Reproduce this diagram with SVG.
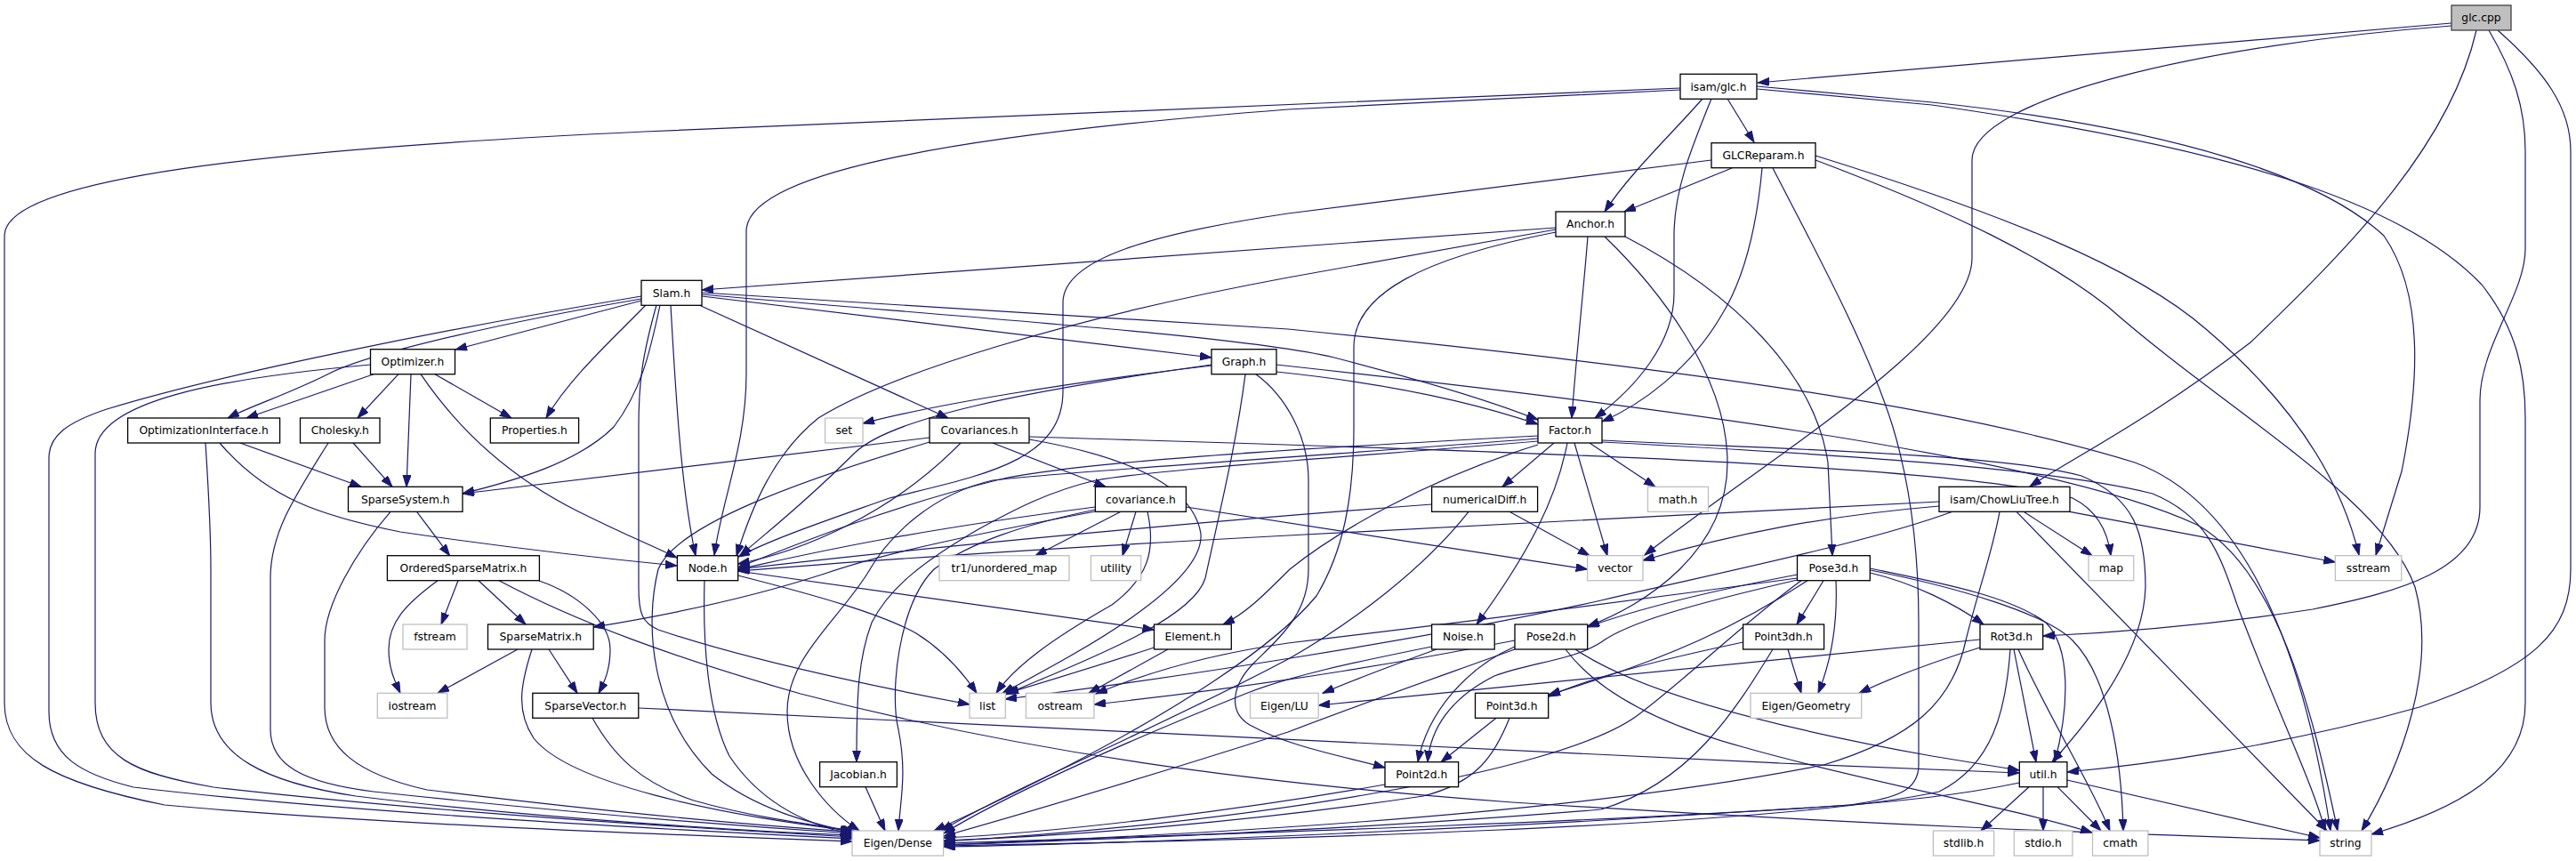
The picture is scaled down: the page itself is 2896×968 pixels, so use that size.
<svg xmlns="http://www.w3.org/2000/svg" width="2896" height="968" viewBox="0 0 2896 968">
<defs>
<marker id="a" markerWidth="14" markerHeight="10" refX="13" refY="4.5" orient="auto" markerUnits="userSpaceOnUse"><path d="M0,0 L13,4.5 L0,9 z" fill="#191970" stroke="#191970" stroke-width="1"/></marker>
<style>
.n rect{fill:#fff;stroke:#000;stroke-width:1.3}
.x rect{fill:#fff;stroke:#bfbfbf;stroke-width:1.3}
.r rect{fill:#bfbfbf;stroke:#404040;stroke-width:1.3}
text{font-family:"DejaVu Sans","Liberation Sans",sans-serif;font-size:12.3px;text-anchor:middle;fill:#000}
#edges path{fill:none;stroke:#191970;stroke-width:1.2;marker-end:url(#a)}
</style>
</defs>
<rect width="2896" height="968" fill="#fff"/>
<g id="edges">
<path d="M2756,26 L1976,93"/>
<path d="M2756,29 C2480,50 2217,110 2217,180 L2217,290 C2217,380 1980,520 1849,624"/>
<path d="M2784,34 C2755,160 2650,270 2530,385 C2420,470 2330,515 2282,547"/>
<path d="M2798,34 C2825,80 2839,120 2839,170 L2839,280 C2839,330 2788,390 2788,450 L2788,570 C2788,640 2700,665 2600,685 C2470,705 2360,712 2297,715"/>
<path d="M2808,34 C2860,80 2890,120 2890,170 L2890,640 C2890,710 2850,750 2720,795 C2560,840 2410,860 2324,868"/>
<path d="M1889,99 L724,148 C300,168 5,200 5,265 L5,790 C5,850 60,880 185,905 C420,927 800,940 958,946"/>
<path d="M1889,101 L1448,123 C1100,150 839,190 839,260 L839,420 C839,500 812,560 803,624"/>
<path d="M1914,111 C1880,150 1832,195 1804,238"/>
<path d="M1924,111 C1900,170 1882,215 1882,265 L1882,330 C1882,385 1840,435 1793,470"/>
<path d="M1942,111 L1972,160"/>
<path d="M1975,97 L2172,115 C2450,145 2610,200 2680,265 C2725,330 2720,430 2700,530 L2671,624"/>
<path d="M1975,100 L2172,118 C2500,165 2700,225 2790,320 C2830,370 2839,420 2839,470 L2839,790 C2839,870 2760,910 2666,938"/>
<path d="M1947,189 L1826,238"/>
<path d="M1924,180 L1448,240 C1300,262 1195,290 1195,340 L1195,440 C1195,520 1100,535 1000,560 C930,585 870,605 830,626"/>
<path d="M1981,189 C1975,255 1960,315 1935,355 C1900,415 1845,455 1801,474"/>
<path d="M1993,189 C2040,280 2100,390 2128,480 C2152,560 2157,640 2157,700 L2157,860 C2157,888 2135,897 2080,905 C1800,925 1300,940 1061,948"/>
<path d="M2041,175 C2250,240 2400,300 2480,370 C2580,455 2632,540 2652,624"/>
<path d="M2041,180 C2200,240 2300,290 2370,345 C2500,460 2680,560 2715,660 C2740,750 2700,860 2655,934"/>
<path d="M1749,256 L789,326"/>
<path d="M1749,258 L1448,312 C1200,358 1000,420 920,470 C870,510 845,570 828,625"/>
<path d="M1749,261 C1600,290 1522,330 1522,390 L1522,480 C1522,560 1510,620 1480,670 C1430,730 1300,820 1050,934"/>
<path d="M1785,266 C1780,330 1772,400 1767,470"/>
<path d="M1804,266 C1860,320 1942,420 1942,520 C1942,620 1850,680 1785,704"/>
<path d="M1827,266 C1950,330 2040,420 2055,520 L2060,624.7"/>
<path d="M721,333 C500,370 250,420 120,460 C75,475 55,490 55,515 L55,800 C55,850 90,870 150,885 C400,915 800,935 958,943"/>
<path d="M721,336 C580,360 420,395 370,420 C320,445 285,455 256,470"/>
<path d="M721,338 L512,393"/>
<path d="M726,343 C690,380 640,425 614,470"/>
<path d="M742,343 C730,400 720,440 690,480 C650,520 580,540 520,555"/>
<path d="M754,343 C760,450 766,550 782,624.7"/>
<path d="M738,343 C722,400 718,430 718,480 L718,660 C718,690 722,700 740,708 C850,745 1000,775 1090,792"/>
<path d="M789,333 L1362,402"/>
<path d="M786,343 L1066,470"/>
<path d="M789,331 C1100,358 1400,378 1500,402 C1600,428 1680,452 1729,472"/>
<path d="M789,329 L1448,370 C1900,415 2200,458 2400,520 C2550,575 2600,800 2620,934"/>
<path d="M416.5,410 C250,425 107,450 107,510 L107,790 C107,850 150,870 240,885 C500,915 850,935 958,941"/>
<path d="M420,420.7 L277,470"/>
<path d="M448,420.7 L402,470"/>
<path d="M462,420.7 L457,547.3"/>
<path d="M473,420.7 C520,490 580,540 650,575 C700,600 730,612 761,627"/>
<path d="M489,420.7 L575,470"/>
<path d="M231,498 C235,560 237,600 237,640 L237,790 C237,850 300,880 400,895 C600,920 850,935 958,939"/>
<path d="M247,498 C300,560 360,580 450,598 C600,620 700,630 761,636"/>
<path d="M270,498 L406,547.3"/>
<path d="M369,498 C330,560 304,600 304,650 L304,820 C304,860 340,880 420,890 C650,915 850,930 958,937"/>
<path d="M397,498 L441,547.3"/>
<path d="M439,575.3 C400,620 365,680 365,720 L365,795 C365,840 400,870 480,888 C700,915 850,928 958,935"/>
<path d="M468.6,575.3 L505.6,624.7"/>
<path d="M492,652.7 C455,680 437,700 437,730 C437,752 444,766 450,779.3"/>
<path d="M515,652.7 L496,702"/>
<path d="M538,652.7 L591,702"/>
<path d="M561,652.7 C650,700 760,740 900,780 C1150,845 1400,880 1700,902 C2100,928 2400,938 2608,945"/>
<path d="M606,653 C650,668 686,700 686,730 C686,752 680,766 673,779.3"/>
<path d="M582,730 L492,779.3"/>
<path d="M598,730 C585,770 580,800 600,830 C640,880 800,915 958,934"/>
<path d="M617,730 L649,779.3"/>
<path d="M666,807.3 C690,850 720,880 780,900 C850,920 920,928 960,934"/>
<path d="M718,796 C1000,810 1500,835 2000,858 L2270,869"/>
<path d="M792,652.7 C790,720 795,800 820,850 C860,910 920,930 958,938"/>
<path d="M829.7,642 L1297.5,708"/>
<path d="M829.7,647 C920,670 990,690 1030,712 C1062,732 1085,760 1098,779.3"/>
<path d="M1045,492 L520,555"/>
<path d="M1045,497 C900,540 760,590 740,640 C725,700 730,800 800,870 C850,910 910,925 958,936"/>
<path d="M1080,498 C1000,580 900,620 829.7,634"/>
<path d="M1116,498 L1243,547.3"/>
<path d="M1157,491 C1600,505 2200,520 2330,560 C2360,575 2370,600 2373,624.7"/>
<path d="M1157,494 C1250,510 1340,540 1350,600 C1355,660 1200,740 1127,779.3"/>
<path d="M1260,575.3 L1164,624.7"/>
<path d="M1277,575.3 L1262,624.7"/>
<path d="M1290,575.3 C1300,620 1290,650 1250,680 C1180,720 1140,750 1120,779.3"/>
<path d="M1333.4,570 L1784.6,640"/>
<path d="M1231.4,573 C1150,590 1090,610 1050,640 C1010,680 1000,780 1010,820 C1020,870 1012,900 1010,934"/>
<path d="M1231.4,575 C1100,600 1000,620 927,645 C850,670 760,690 667,705"/>
<path d="M1231.4,570 C1000,600 900,625 829.7,640"/>
<path d="M1362,411 C1200,430 1050,455 970,476"/>
<path d="M1362,410 C1150,440 1000,470 960,510 C900,570 860,600 832,624.7"/>
<path d="M1435,418 C1550,430 1650,450 1729,477"/>
<path d="M1400,420.7 C1390,500 1370,580 1355,650 C1340,700 1200,750 1130,781"/>
<path d="M1412,420.7 C1445,445 1471,490 1471,540 L1471,640 C1471,690 1440,715 1410,745 C1385,770 1380,800 1405,815 C1450,840 1510,850 1557,863"/>
<path d="M1435,410 C1800,450 2300,510 2470,590 C2560,640 2600,800 2628,934"/>
<path d="M1729,490 C1450,505 1200,520 1120,540 C1000,570 900,610 829.7,638"/>
<path d="M1729,496 C1500,515 1300,528 1232,540 C1180,552 1140,573 1100,595 C1040,630 1000,660 980,700 C965,740 963,780 963,856.7"/>
<path d="M1729,493 C1450,515 1200,530 1116,540 C1050,555 1000,600 975,645 C940,700 885,740 885,800 C885,860 930,910 966,934"/>
<path d="M1729,500 C1600,540 1500,600 1450,640 C1420,670 1400,690 1375,702"/>
<path d="M1747,498 L1689,547.3"/>
<path d="M1762,498 C1750,560 1720,620 1660,702"/>
<path d="M1770,498 L1807,624.7"/>
<path d="M1787,498 L1861,547.3"/>
<path d="M1801,495 C2000,505 2250,510 2340,535 C2400,560 2412,600 2412,660 C2410,740 2340,820 2307,856.7"/>
<path d="M1801,497 C2050,510 2300,525 2420,555 C2480,580 2495,620 2515,680 C2560,800 2600,880 2614,934"/>
<path d="M1697,575.3 L1787,624.7"/>
<path d="M1609.6,567 C1300,590 1000,620 829.7,640"/>
<path d="M1651,575.3 C1600,640 1520,700 1450,740 C1300,820 1150,880 1058,934"/>
<path d="M2180,564 L1448,602 C1150,618 950,632 829.7,642"/>
<path d="M2180,569 C2050,580 1950,600 1847,630"/>
<path d="M2195,575.3 C2100,610 1950,640 1800,675 C1600,720 1300,765 1130,786"/>
<path d="M2248,575.3 C2240,620 2225,660 2210,720 C2195,790 2150,830 2050,860 C1750,920 1300,940 1061,950"/>
<path d="M2267,575.3 L2616,934"/>
<path d="M2275,575.3 L2352,624.7"/>
<path d="M2327,575.3 L2625.4,632"/>
<path d="M2020.5,646 C1920,665 1840,685 1784.7,705"/>
<path d="M2020.5,650 C1800,680 1600,705 1448,723 C1350,737 1280,760 1232,780"/>
<path d="M2020.5,652 C1900,680 1830,700 1800,722 C1770,742 1720,745 1680,760 C1630,785 1608,820 1605,856.7"/>
<path d="M2032,652.7 C1960,700 1880,740 1741,781"/>
<path d="M2050,652.7 L2020,702"/>
<path d="M2064,652.7 C2066,700 2060,740 2044,779.3"/>
<path d="M2025,652.7 C1960,700 1900,760 1840,805 C1750,870 1400,925 1061,946"/>
<path d="M2102.3,644 C2150,655 2200,680 2230,702"/>
<path d="M2102.3,639 C2180,655 2260,670 2300,700 C2330,730 2325,800 2310,856.7"/>
<path d="M2102.3,641 C2200,660 2300,690 2330,720 C2370,760 2385,850 2387,934"/>
<path d="M1703,727 C1650,750 1605,800 1594,856.7"/>
<path d="M1703,720 C1600,740 1448,768 1230,792"/>
<path d="M1703,730 C1620,760 1520,795 1448,823 C1300,870 1150,915 1061,940"/>
<path d="M1760,730 C1790,770 1850,810 1960,840 C2100,880 2250,905 2352,936"/>
<path d="M1771,730 C1830,770 1950,810 2172,850 L2270,866"/>
<path d="M1615,730 C1560,750 1520,765 1487,779.3"/>
<path d="M1609.6,727 C1520,745 1450,760 1400,780 C1250,840 1120,900 1061,937"/>
<path d="M1959.6,722 C1850,745 1780,765 1741,783"/>
<path d="M1993,730 C1950,800 1900,880 1800,910 C1500,935 1200,945 1061,950"/>
<path d="M2010,730 L2025,779.3"/>
<path d="M1682,807.3 L1620,856.7"/>
<path d="M1697,807.3 C1680,850 1660,880 1600,895 C1400,925 1200,940 1061,945"/>
<path d="M1557,882 C1400,910 1200,935 1061,942"/>
<path d="M2226,719 L1482,793"/>
<path d="M2226,728 C2170,745 2120,765 2090,779.3"/>
<path d="M2260,730 C2255,800 2240,860 2180,890 C2000,930 1400,945 1061,951"/>
<path d="M2264,730 L2289,856.7"/>
<path d="M2269,730 C2300,800 2350,880 2372,934"/>
<path d="M2270.3,880 C2200,895 2100,905 2000,910 C1700,930 1300,948 1061,952"/>
<path d="M2281,884.7 L2227,934"/>
<path d="M2297,884.7 L2297,934"/>
<path d="M2313,884.7 L2362,934"/>
<path d="M2323.9,877 L2608,942"/>
<path d="M1297.5,728 C1230,750 1180,765 1132,779.3"/>
<path d="M1313,730 L1224,779.3"/>
<path d="M973,884.7 L995,934"/>
</g>
<g id="glc_cpp" class="r"><rect x="2756" y="6" width="67" height="28"/><text x="2789.5" y="24.3">glc.cpp</text></g>
<g id="isam_glc_h" class="n"><rect x="1889" y="83.3" width="86" height="28"/><text x="1932" y="101.6">isam/glc.h</text></g>
<g id="GLCReparam_h" class="n"><rect x="1924" y="160.7" width="117" height="28"/><text x="1982.5" y="179">GLCReparam.h</text></g>
<g id="Anchor_h" class="n"><rect x="1749" y="238" width="78" height="28"/><text x="1788" y="256.3">Anchor.h</text></g>
<g id="Slam_h" class="n"><rect x="721" y="315.3" width="68" height="28"/><text x="755" y="333.6">Slam.h</text></g>
<g id="Optimizer_h" class="n"><rect x="416.5" y="392.7" width="95" height="28"/><text x="464" y="411">Optimizer.h</text></g>
<g id="Graph_h" class="n"><rect x="1362" y="392.7" width="73" height="28"/><text x="1398.5" y="411">Graph.h</text></g>
<g id="OptimizationInterface_h" class="n"><rect x="143.6" y="470" width="171" height="28"/><text x="229.1" y="488.3">OptimizationInterface.h</text></g>
<g id="Cholesky_h" class="n"><rect x="337.5" y="470" width="89.5" height="28"/><text x="382.25" y="488.3">Cholesky.h</text></g>
<g id="Properties_h" class="n"><rect x="551.3" y="470" width="99.3" height="28"/><text x="601" y="488.3">Properties.h</text></g>
<g id="set" class="x"><rect x="927.6" y="470" width="42.4" height="28"/><text x="948.8" y="488.3">set</text></g>
<g id="Covariances_h" class="n"><rect x="1045" y="470" width="112" height="28"/><text x="1101" y="488.3">Covariances.h</text></g>
<g id="Factor_h" class="n"><rect x="1729" y="470" width="72" height="28"/><text x="1765" y="488.3">Factor.h</text></g>
<g id="SparseSystem_h" class="n"><rect x="391.5" y="547.3" width="128.5" height="28"/><text x="455.75" y="565.6">SparseSystem.h</text></g>
<g id="covariance_h" class="n"><rect x="1231.4" y="547.3" width="102" height="28"/><text x="1282.4" y="565.6">covariance.h</text></g>
<g id="numericalDiff_h" class="n"><rect x="1609.6" y="547.3" width="119" height="28"/><text x="1669.1" y="565.6">numericalDiff.h</text></g>
<g id="math_h" class="x"><rect x="1852.5" y="547.3" width="68" height="28"/><text x="1886.5" y="565.6">math.h</text></g>
<g id="ChowLiuTree_h" class="n"><rect x="2180" y="547.3" width="147" height="28"/><text x="2253.5" y="565.6">isam/ChowLiuTree.h</text></g>
<g id="OrderedSparseMatrix_h" class="n"><rect x="435.4" y="624.7" width="171" height="28"/><text x="520.9" y="643">OrderedSparseMatrix.h</text></g>
<g id="Node_h" class="n"><rect x="761.4" y="624.7" width="68.3" height="28"/><text x="795.55" y="643">Node.h</text></g>
<g id="tr1_unordered_map" class="x"><rect x="1056" y="624.7" width="146" height="28"/><text x="1129" y="643">tr1/unordered_map</text></g>
<g id="utility" class="x"><rect x="1226.4" y="624.7" width="56.3" height="28"/><text x="1254.55" y="643">utility</text></g>
<g id="vector" class="x"><rect x="1784.6" y="624.7" width="62.4" height="28"/><text x="1815.8" y="643">vector</text></g>
<g id="Pose3d_h" class="n"><rect x="2020.5" y="624.7" width="81.8" height="28"/><text x="2061.4" y="643">Pose3d.h</text></g>
<g id="map" class="x"><rect x="2348" y="624.7" width="50.7" height="28"/><text x="2373.35" y="643">map</text></g>
<g id="sstream" class="x"><rect x="2625.4" y="624.7" width="74.4" height="28"/><text x="2662.6" y="643">sstream</text></g>
<g id="fstream" class="x"><rect x="453" y="702" width="72" height="28"/><text x="489" y="720.3">fstream</text></g>
<g id="SparseMatrix_h" class="n"><rect x="548.5" y="702" width="118.7" height="28"/><text x="607.85" y="720.3">SparseMatrix.h</text></g>
<g id="Element_h" class="n"><rect x="1297.5" y="702" width="86.8" height="28"/><text x="1340.9" y="720.3">Element.h</text></g>
<g id="Noise_h" class="n"><rect x="1609.6" y="702" width="70.6" height="28"/><text x="1644.9" y="720.3">Noise.h</text></g>
<g id="Pose2d_h" class="n"><rect x="1703" y="702" width="81.7" height="28"/><text x="1743.85" y="720.3">Pose2d.h</text></g>
<g id="Point3dh_h" class="n"><rect x="1959.6" y="702" width="91" height="28"/><text x="2005.1" y="720.3">Point3dh.h</text></g>
<g id="Rot3d_h" class="n"><rect x="2226" y="702" width="70.7" height="28"/><text x="2261.35" y="720.3">Rot3d.h</text></g>
<g id="iostream" class="x"><rect x="424.3" y="779.3" width="78.5" height="28"/><text x="463.55" y="797.6">iostream</text></g>
<g id="SparseVector_h" class="n"><rect x="598.8" y="779.3" width="119" height="28"/><text x="658.3" y="797.6">SparseVector.h</text></g>
<g id="list" class="x"><rect x="1090" y="779.3" width="40.3" height="28"/><text x="1110.15" y="797.6">list</text></g>
<g id="ostream" class="x"><rect x="1153.4" y="779.3" width="76.6" height="28"/><text x="1191.7" y="797.6">ostream</text></g>
<g id="Eigen_LU" class="x"><rect x="1405.5" y="779.3" width="76.7" height="28"/><text x="1443.85" y="797.6">Eigen/LU</text></g>
<g id="Point3d_h" class="n"><rect x="1658.5" y="779.3" width="82.2" height="28"/><text x="1699.6" y="797.6">Point3d.h</text></g>
<g id="Eigen_Geometry" class="x"><rect x="1968" y="779.3" width="124.7" height="28"/><text x="2030.35" y="797.6">Eigen/Geometry</text></g>
<g id="Jacobian_h" class="n"><rect x="921.6" y="856.7" width="86.8" height="28"/><text x="965" y="875">Jacobian.h</text></g>
<g id="Point2d_h" class="n"><rect x="1557" y="856.7" width="82.6" height="28"/><text x="1598.3" y="875">Point2d.h</text></g>
<g id="util_h" class="n"><rect x="2270.3" y="856.7" width="53.6" height="28"/><text x="2297.1" y="875">util.h</text></g>
<g id="Eigen_Dense" class="x"><rect x="958" y="934" width="102.6" height="28"/><text x="1009.3" y="952.3">Eigen/Dense</text></g>
<g id="stdlib_h" class="x"><rect x="2173.4" y="934" width="68.3" height="28"/><text x="2207.55" y="952.3">stdlib.h</text></g>
<g id="stdio_h" class="x"><rect x="2264.3" y="934" width="65.6" height="28"/><text x="2297.1" y="952.3">stdio.h</text></g>
<g id="cmath" class="x"><rect x="2352.5" y="934" width="62.4" height="28"/><text x="2383.7" y="952.3">cmath</text></g>
<g id="string" class="x"><rect x="2608" y="934" width="58" height="28"/><text x="2637" y="952.3">string</text></g>
</svg>
